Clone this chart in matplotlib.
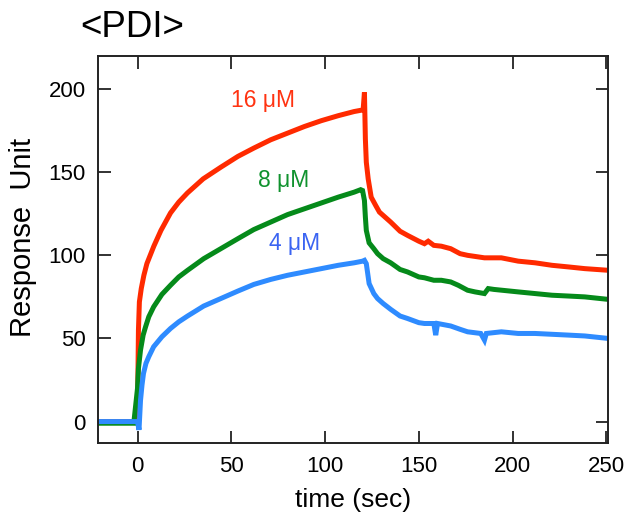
import numpy as np
import matplotlib
matplotlib.use('Agg')
from matplotlib import pyplot as plt

plt.rcParams['font.family'] = ['Liberation Sans', 'DejaVu Sans']

# 16 uM (red)
t_red = [-20, -10, -2, 0, 0.5, 1, 2, 3.4, 5, 8.7, 12.5, 17.6, 22, 26.6, 35, 44.4, 53.5, 62, 71,
         80, 89, 98, 107, 115.5, 120.3, 121, 121.5, 122, 123, 124.6, 127, 129, 132, 135, 140,
         144, 150, 153, 155, 158, 162, 167, 172, 176, 185, 194, 203, 212, 221, 230, 238.5, 251]
y_red = [0, 0, 0, 5, 55, 72, 80, 88, 95, 105.5, 115, 125.5, 132, 137.5, 146, 153, 159.5,
         164.5, 169.5, 173.5, 177.5, 181, 184, 186.5, 187.5, 198, 170, 156, 146, 135, 130, 126,
         123, 120, 114.5, 112, 108.5, 107, 108.5, 106, 105.5, 104, 101, 100, 98.5, 98.5, 96.5,
         95.5, 94, 93, 92, 91]

# 8 uM (green)
t_green = [-20, -10, -2, 0, 0.5, 1.6, 3, 4.3, 6, 8.6, 13, 17.6, 22, 26.7, 35.3, 44.4, 53.5, 62,
           71, 80, 89, 98, 107, 115.5, 119, 120, 121, 121.5, 122, 123.5, 126, 128, 131, 135,
           140, 144, 150, 153, 158, 162, 167, 171, 176, 180, 185, 187, 190, 203, 212, 221, 230,
           238.5, 251]
y_green = [-1, -1, -1, 20, 32, 43, 52, 57, 63, 69, 76.5, 82, 87, 91, 98, 104, 110, 115.5,
           120, 124.5, 128, 131.5, 135, 138, 139.5, 139, 133, 123, 115, 107.5, 104, 101, 98,
           95.5, 91.5, 90, 87, 86.5, 85, 85, 84, 82, 79, 78, 77, 80, 79.5, 78, 77, 76, 75.5,
           75, 73.5]

# 4 uM (blue)
t_blue = [-20, -10, -2, 0, 0.8, 1.6, 2.4, 3.2, 4.5, 6, 8.6, 13, 17.6, 22, 26.7, 35.3, 44.4, 53.5,
          62, 71, 80, 89, 98, 107, 115.5, 120, 121, 122, 123, 123.5, 126, 128, 131, 135, 140,
          144, 150, 153, 158, 159, 160, 167, 172, 176, 183, 185, 186, 194, 203, 212, 221, 230,
          238.5, 251]
y_blue = [0, 0, 0, 0, -5, 12.7, 22, 29, 35, 39, 45, 51, 56, 60, 63.5, 69.5, 74, 78.5,
          82.5, 85.5, 88, 90, 92, 94, 95.5, 96.5, 97, 95, 87, 83, 77, 74, 71, 67.5, 63.5,
          62, 59.5, 59, 59, 52, 59, 57.5, 55.5, 54, 53, 49, 53, 54, 53, 53, 52.5, 52,
          51.5, 50]

labels = ['16 \u03bcM', '8 \u03bcM', '4 \u03bcM']
line_colors = ['#ff2a00', '#058a1a', '#2e8bff']
text_colors = ['#ff3311', '#10922e', '#3b64f2']

fig = plt.figure(figsize=(6.29, 5.22), dpi=100)
ax = fig.add_axes([0.156, 0.151, 0.811, 0.742])

ax.plot(t_red, y_red, color=line_colors[0], lw=3.6, solid_joinstyle='miter')
ax.plot(t_green, y_green, color=line_colors[1], lw=3.6, solid_joinstyle='miter')
ax.plot(t_blue, y_blue, color=line_colors[2], lw=3.6, solid_joinstyle='miter')

ax.text(50, 193, labels[0], color=text_colors[0], fontsize=16.5, ha='left', va='center')
ax.text(64, 145, labels[1], color=text_colors[1], fontsize=16.5, ha='left', va='center')
ax.text(70, 107, labels[2], color=text_colors[2], fontsize=16.5, ha='left', va='center')

ax.set_xlim(-21, 251)
ax.set_ylim(-13, 220)
ax.set_xticks([0, 50, 100, 150, 200, 250])
ax.set_yticks([0, 50, 100, 150, 200])
ax.tick_params(direction='in', length=9, width=1.3, top=True, right=True,
               labelsize=16, color='#222222', pad=9)
for s in ax.spines.values():
    s.set_linewidth(1.4)
    s.set_color('#222222')

ax.set_xlabel('time (sec)', fontsize=19, labelpad=8)
ax.set_ylabel('Response  Unit', fontsize=21, labelpad=8)
ax.yaxis.set_label_coords(-0.12, 0.53)
fig.text(0.128, 0.93, '<PDI>', fontsize=26.5, ha='left', va='baseline')

plt.savefig('out.png', dpi=100)
